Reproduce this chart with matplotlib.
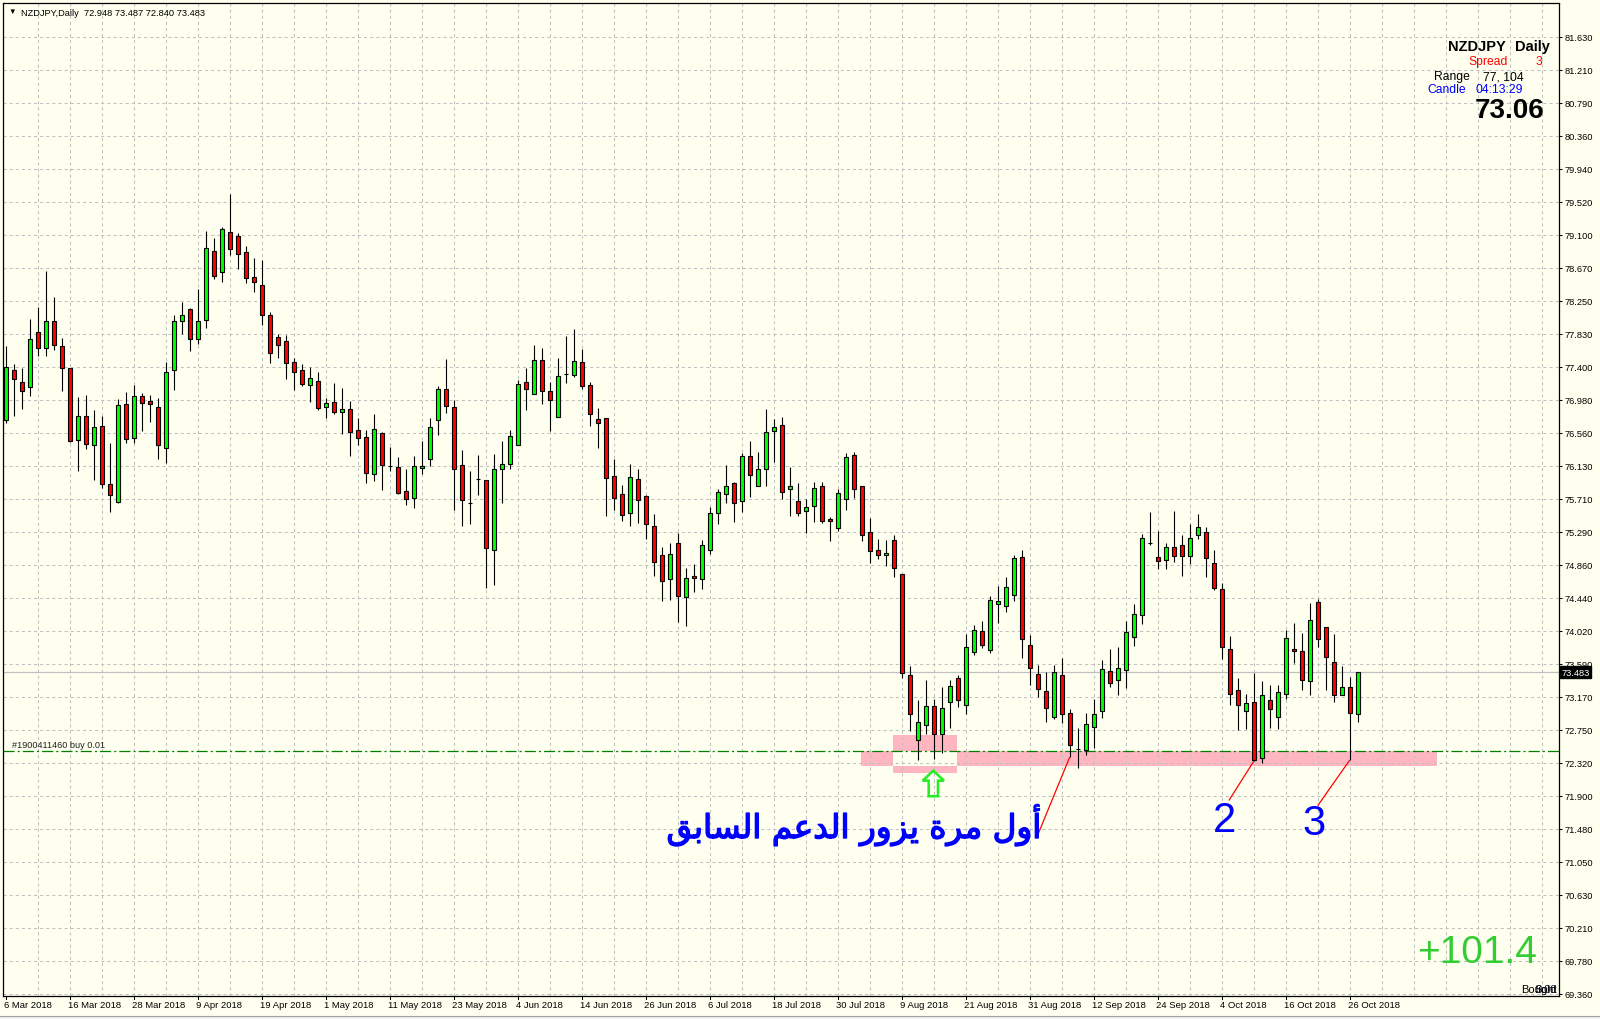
import numpy as np
import matplotlib
matplotlib.use('Agg')
import matplotlib.pyplot as plt
from matplotlib.patches import Rectangle, Polygon
import matplotlib.transforms as mtransforms
import matplotlib.patheffects as pe

plt.rcParams['font.family'] = ['Liberation Sans', 'DejaVu Sans']
plt.rcParams['lines.scale_dashes'] = False

# ---------------- data ----------------
symbol = 'NZDJPY'
timeframe = 'Daily'

opens = [76.716, 77.362, 77.199, 77.135, 77.840, 77.635, 77.981, 77.661, 77.379, 76.456,
         76.763, 76.392, 76.635, 75.892, 75.665, 76.917, 76.481, 77.020, 76.956, 76.879,
         76.353, 77.353, 77.981, 78.135, 77.751, 77.994, 78.879, 78.610, 79.123, 79.071,
         78.866, 78.546, 78.443, 78.058, 77.776, 77.725, 77.456, 77.353, 77.161, 77.212,
         76.879, 76.943, 76.815, 76.853, 76.586, 76.497, 76.022, 76.548, 76.130, 76.112,
         75.804, 75.715, 76.099, 76.215, 76.715, 77.112, 76.881, 76.138, 75.646, 75.954,
         75.945, 75.048, 76.086, 76.151, 76.394, 77.202, 77.048, 77.484, 77.086, 76.753,
         77.304, 77.292, 77.458, 77.163, 76.727, 76.740, 75.997, 75.766, 75.522, 75.958,
         75.740, 75.356, 74.984, 74.676, 75.138, 74.445, 74.715, 74.675, 75.043, 75.522,
         75.765, 75.906, 75.675, 76.252, 75.868, 76.086, 76.573, 76.650, 75.829, 75.675,
         75.547, 75.611, 75.868, 75.445, 75.329, 75.701, 76.265, 75.868, 75.278, 75.047,
         74.983, 75.175, 74.739, 73.445, 72.611, 72.803, 73.051, 72.688, 73.098, 73.406,
         73.060, 73.739, 74.009, 73.765, 74.355, 74.329, 74.470, 74.957, 73.829, 73.457,
         73.240, 72.906, 73.445, 72.958, 72.496, 72.483, 72.778, 72.983, 73.496, 73.381,
         73.509, 73.932, 74.214, 75.137, 74.958, 74.919, 75.086, 75.112, 74.971, 75.240,
         75.278, 74.881, 74.548, 73.778, 73.253, 72.983, 73.099, 72.381, 73.124, 72.906,
         73.201, 73.778, 73.753, 73.368, 74.381, 74.060, 73.612, 73.189, 73.291, 72.948]

highs = [77.669, 77.430, 77.383, 78.011, 78.161, 78.627, 78.289, 77.763, 77.388, 77.007,
         77.033, 76.845, 76.768, 76.417, 76.981, 77.071, 77.161, 77.058, 77.033, 76.994,
         77.456, 78.058, 78.225, 78.148, 78.392, 79.135, 79.046, 79.187, 79.610, 79.110,
         78.943, 78.789, 78.764, 78.097, 77.815, 77.802, 77.507, 77.430, 77.392, 77.328,
         76.994, 77.187, 77.122, 76.964, 76.736, 76.586, 76.792, 76.561, 76.368, 76.240,
         76.086, 76.257, 76.445, 76.740, 77.151, 77.497, 76.971, 76.330, 76.061, 76.270,
         75.950, 76.279, 76.445, 76.586, 77.227, 77.381, 77.676, 77.638, 77.202, 77.510,
         77.796, 77.881, 77.625, 77.202, 76.868, 76.745, 76.215, 75.881, 76.151, 76.086,
         75.753, 75.509, 75.086, 75.138, 75.266, 74.817, 74.868, 75.175, 75.598, 75.834,
         76.141, 75.919, 76.291, 76.449, 76.308, 76.859, 76.727, 76.752, 76.116, 75.906,
         75.701, 75.919, 75.919, 75.470, 75.829, 76.295, 76.308, 75.875, 75.462, 75.188,
         75.175, 75.240, 74.745, 73.560, 73.128, 73.380, 73.141, 73.291, 73.380, 73.445,
         73.970, 74.094, 74.137, 74.457, 74.586, 74.701, 74.983, 75.047, 73.957, 73.573,
         73.483, 73.573, 73.663, 73.009, 72.765, 72.958, 73.137, 73.637, 73.778, 73.804,
         74.137, 74.355, 75.253, 75.535, 75.291, 75.137, 75.552, 75.240, 75.381, 75.509,
         75.342, 75.048, 74.624, 73.945, 73.406, 73.201, 73.471, 73.368, 73.317, 73.317,
         74.022, 74.112, 73.983, 74.368, 74.419, 74.065, 73.971, 73.560, 73.419, 73.487]

lows = [76.674, 76.772, 76.862, 77.020, 77.541, 77.541, 77.618, 77.093, 76.430, 76.067,
        76.340, 75.951, 75.840, 75.533, 75.657, 76.426, 76.426, 76.571, 76.687, 76.212,
        76.161, 77.105, 77.815, 77.605, 77.687, 77.900, 78.520, 78.481, 78.828, 78.648,
        78.469, 78.353, 77.930, 77.443, 77.507, 77.238, 77.105, 77.148, 76.943, 76.840,
        76.738, 76.789, 76.533, 76.251, 76.390, 75.903, 75.928, 75.813, 76.056, 75.762,
        75.621, 75.582, 76.018, 76.121, 76.518, 76.800, 75.556, 75.351, 75.377, 75.749,
        74.561, 74.595, 75.646, 76.082, 76.394, 76.839, 77.048, 76.915, 76.569, 76.753,
        77.189, 77.266, 77.112, 76.638, 76.356, 75.484, 75.561, 75.420, 75.356, 75.394,
        75.189, 74.715, 74.394, 74.407, 74.125, 74.073, 74.509, 74.543, 75.000, 75.385,
        75.654, 75.402, 75.534, 75.731, 75.868, 75.868, 76.180, 75.697, 75.479, 75.479,
        75.261, 75.402, 75.389, 75.171, 75.299, 75.556, 75.718, 75.171, 74.885, 74.928,
        74.838, 74.697, 73.406, 72.727, 72.355, 72.688, 72.368, 72.445, 72.765, 73.034,
        72.945, 73.701, 73.791, 73.727, 74.111, 74.252, 74.393, 73.671, 73.316, 73.162,
        72.842, 72.881, 72.830, 72.394, 72.248, 72.419, 72.509, 72.894, 73.291, 73.189,
        73.278, 73.817, 74.099, 75.112, 74.804, 74.804, 74.894, 74.714, 74.868, 75.189,
        74.701, 74.535, 73.650, 73.060, 72.740, 72.753, 72.340, 72.317, 72.765, 72.753,
        73.137, 73.599, 73.253, 73.189, 73.804, 73.253, 73.099, 73.189, 72.355, 72.840]

closes = [77.392, 77.242, 77.088, 77.751, 77.635, 77.981, 77.678, 77.379, 76.443, 76.763,
          76.404, 76.622, 75.892, 75.755, 76.905, 76.469, 77.020, 76.930, 76.917, 76.392,
          77.328, 77.981, 78.058, 77.751, 77.981, 78.917, 78.558, 79.161, 78.905, 78.840,
          78.533, 78.481, 78.058, 77.571, 77.674, 77.443, 77.328, 77.174, 77.251, 76.866,
          76.930, 76.815, 76.853, 76.558, 76.484, 76.035, 76.599, 76.138, 76.128, 75.779,
          75.702, 76.125, 76.125, 76.625, 77.112, 76.894, 76.086, 75.689, 75.646, 75.954,
          75.074, 76.086, 76.151, 76.510, 77.176, 77.112, 77.484, 77.086, 76.971, 77.279,
          77.304, 77.471, 77.151, 76.792, 76.676, 75.971, 75.715, 75.497, 75.984, 75.689,
          75.381, 74.894, 74.650, 74.997, 74.458, 74.689, 74.689, 75.111, 75.522, 75.791,
          75.868, 75.650, 76.252, 76.009, 76.086, 76.560, 76.624, 75.791, 75.868, 75.522,
          75.598, 75.842, 75.415, 75.419, 75.778, 76.240, 75.829, 75.240, 75.034, 74.983,
          75.009, 74.816, 73.470, 72.945, 72.842, 73.051, 72.688, 73.021, 73.304, 73.124,
          73.804, 74.022, 73.829, 74.406, 74.393, 74.573, 74.945, 73.906, 73.534, 73.265,
          73.022, 73.483, 72.945, 72.547, 72.496, 72.817, 72.945, 73.522, 73.342, 73.535,
          73.996, 74.227, 75.201, 75.137, 74.907, 75.086, 74.971, 74.971, 75.201, 75.342,
          74.945, 74.560, 73.804, 73.201, 73.060, 73.086, 72.355, 73.189, 73.009, 73.227,
          73.919, 73.753, 73.381, 74.150, 73.907, 73.676, 73.189, 73.291, 72.958, 73.483]

date_labels = ['6 Mar 2018', '16 Mar 2018', '28 Mar 2018', '9 Apr 2018', '19 Apr 2018',
               '1 May 2018', '11 May 2018', '23 May 2018', '4 Jun 2018', '14 Jun 2018',
               '26 Jun 2018', '6 Jul 2018', '18 Jul 2018', '30 Jul 2018', '9 Aug 2018',
               '21 Aug 2018', '31 Aug 2018', '12 Sep 2018', '24 Sep 2018', '4 Oct 2018',
               '16 Oct 2018', '26 Oct 2018']
bars_per_label = 8

price_labels = ['81.630', '81.210', '80.790', '80.360', '79.940', '79.520', '79.100',
                '78.670', '78.250', '77.830', '77.400', '76.980', '76.560', '76.130',
                '75.710', '75.290', '74.860', '74.440', '74.020', '73.590', '73.170',
                '72.750', '72.320', '71.900', '71.480', '71.050', '70.630', '70.210',
                '69.780', '69.360']

header_ohlc = ['72.948', '73.487', '72.840', '73.483']
current_price = 73.483
order_price = 72.470
order_label = '#1900411460 buy 0.01'
spread_value = '3'
range_value = '77, 104'
candle_timer = '04:13:29'
big_price = '73.06'
profit_text = '+101.4'
arabic_note = 'أول مرة يزور الدعم السابق'
touch_labels = ['2', '3']

# ---------------- simple Arabic shaping (presentation forms + RTL) -------------
FORMS = {
    '\u0627': ('\uFE8D', '\uFE8E', None, None),
    '\u0623': ('\uFE83', '\uFE84', None, None),
    '\u0628': ('\uFE8F', '\uFE90', '\uFE91', '\uFE92'),
    '\u0629': ('\uFE93', '\uFE94', None, None),
    '\u062F': ('\uFEA9', '\uFEAA', None, None),
    '\u0631': ('\uFEAD', '\uFEAE', None, None),
    '\u0632': ('\uFEAF', '\uFEB0', None, None),
    '\u0633': ('\uFEB1', '\uFEB2', '\uFEB3', '\uFEB4'),
    '\u0639': ('\uFEC9', '\uFECA', '\uFECB', '\uFECC'),
    '\u0642': ('\uFED5', '\uFED6', '\uFED7', '\uFED8'),
    '\u0644': ('\uFEDD', '\uFEDE', '\uFEDF', '\uFEE0'),
    '\u0645': ('\uFEE1', '\uFEE2', '\uFEE3', '\uFEE4'),
    '\u0648': ('\uFEED', '\uFEEE', None, None),
    '\u064A': ('\uFEF1', '\uFEF2', '\uFEF3', '\uFEF4'),
}


def shape_arabic(text):
    out = []
    n = len(text)
    for k, ch in enumerate(text):
        if ch not in FORMS:
            out.append(ch)
            continue
        prev = text[k - 1] if k > 0 else None
        nxt = text[k + 1] if k + 1 < n else None
        jp = prev in FORMS and FORMS[prev][2] is not None
        jn = nxt in FORMS and FORMS[ch][2] is not None
        iso, fin, ini, med = FORMS[ch]
        if jp and jn:
            out.append(med)
        elif jp:
            out.append(fin)
        elif jn:
            out.append(ini)
        else:
            out.append(iso)
    return ''.join(out)[::-1]


# ---------------- figure ----------------
FIG_W, FIG_H = 1600, 1020
BG = '#FFFFF0'
fig = plt.figure(figsize=(FIG_W / 100, FIG_H / 100), dpi=100, facecolor=BG)


def fx(px):
    return px / FIG_W


def fy(py):
    return 1 - py / FIG_H


ax_left, ax_right, ax_top, ax_bottom = 3, 1559, 4, 997
ax = fig.add_axes([fx(ax_left), fy(ax_bottom), fx(ax_right - ax_left), (ax_bottom - ax_top) / FIG_H])
ax.set_facecolor(BG)

bar_px = 8.0
x0_px = 5.7
px_per_price = 78.0
ref_price, ref_py = 81.63, 37.7
ax.set_xlim((ax_left - x0_px) / bar_px, (ax_right - x0_px) / bar_px)
ax.set_ylim(ref_price - (ax_bottom - ref_py) / px_per_price,
            ref_price + (ref_py - ax_top) / px_per_price)

# grid
tick_vals = np.linspace(float(price_labels[-1]), float(price_labels[0]), len(price_labels))
ax.set_yticks(tick_vals)
ax.set_yticklabels(price_labels[::-1])
ax.yaxis.tick_right()
ax.tick_params(axis='y', length=2.2, width=0.75, pad=1.6, labelsize=6.7, colors='black',
               direction='out')
ax.set_xticks(np.arange(4, 195, 4))
ax.tick_params(axis='x', length=0, labelbottom=False)
ax.set_axisbelow('line')
ax.grid(True, color='#C0C0C0', linestyle=(0, (2.2, 2.2)), linewidth=0.75)
for sp in ax.spines.values():
    sp.set_color('black')
    sp.set_linewidth(0.9)

n = len(opens)
x = np.arange(n)
o = np.array(opens)
hi = np.array(highs)
lo = np.array(lows)
c = np.array(closes)

# support zone rectangles (XOR style overlap)
zone_x = (106.9, 178.9)
zone_y = (72.284, 72.468)
box_x = (110.95, 118.9)
box_y = (72.194, 72.681)
pink = '#FFB6C1'
ax.add_patch(Rectangle((zone_x[0], zone_y[0]), zone_x[1] - zone_x[0], zone_y[1] - zone_y[0],
                       facecolor=pink, edgecolor='none', zorder=0.8))
ax.add_patch(Rectangle((box_x[0], box_y[0]), box_x[1] - box_x[0], box_y[1] - box_y[0],
                       facecolor=pink, edgecolor='none', zorder=0.8))
ax.add_patch(Rectangle((box_x[0], zone_y[0]), box_x[1] - box_x[0], zone_y[1] - zone_y[0],
                       facecolor=BG, edgecolor='none', zorder=0.9))

# horizontal lines
ax.axhline(current_price, color='#C0C0C0', linewidth=0.9, zorder=2)
ax.axhline(order_price, color='#008000', linewidth=0.9, linestyle=(0, (8, 2.2, 1.5, 2.2)), zorder=2)
ax.text(0.75, order_price + 0.08, order_label, fontsize=6.6, color='#202020', va='center',
        ha='left', zorder=5)

# candles
ax.vlines(x, lo, hi, color='black', linewidth=0.8, zorder=3)
body_bottom = np.minimum(o, c)
body_height = np.maximum(np.abs(c - o), 0.004)
colors = np.where(c > o, '#00FF00', np.where(c < o, '#FF0000', '#000000'))
ax.bar(x, body_height, bottom=body_bottom, width=0.52, color=colors, edgecolor='black',
       linewidth=0.8, zorder=4)

# green hollow up arrow
ac, atop, abase, abot = 115.95, 72.220, 72.092, 71.892
hw, sw = 1.33, 0.58
arrow = Polygon([(ac, atop), (ac + hw, abase), (ac + sw, abase), (ac + sw, abot),
                 (ac - sw, abot), (ac - sw, abase), (ac - hw, abase)], closed=True,
                facecolor='none', edgecolor='#22EE22', linewidth=1.8, zorder=5)
ax.add_patch(arrow)

# red connector lines
connectors = [((133, 72.394), (129.0, 71.395)),
              ((156, 72.340), (152.9, 71.838)),
              ((168, 72.355), (164.0, 71.771))]
for (xa, ya), (xb, yb) in connectors:
    ax.plot([xa, xb], [ya, yb], color='#FF0000', linewidth=0.9, zorder=6, solid_capstyle='butt')

# touch labels 2 and 3
ax.text(152.35, 71.447, touch_labels[0], fontsize=30, color='#0000FF', ha='center',
        va='baseline', zorder=6)
ax.text(163.5, 71.408, touch_labels[1], fontsize=30, color='#0000FF', ha='center',
        va='baseline', zorder=6)

# Arabic annotation, sized to the reference width
shaped = shape_arabic(arabic_note)
t_ar = ax.text(129.5, 71.357, shaped, fontsize=26, color='#0000FF', ha='right',
               va='baseline', family=['DejaVu Sans'], zorder=6)
fig.canvas.draw()
bb = t_ar.get_window_extent()
target_w = 375.0
t_ar.set_fontsize(26 * target_w / bb.width)
t_ar.set_path_effects([pe.withStroke(linewidth=1.0, foreground='#0000FF')])

# current price tag on the right axis
ax.text(1.0015, current_price, '73.483',
        transform=mtransforms.blended_transform_factory(ax.transAxes, ax.transData),
        fontsize=6.7, color='white', va='center', ha='left', zorder=10, clip_on=False,
        bbox=dict(boxstyle='square,pad=0.18', facecolor='black', edgecolor='black'))

# date labels
tr = mtransforms.blended_transform_factory(ax.transData, fig.transFigure)
for k, lab in enumerate(date_labels):
    bi = k * bars_per_label
    ax.text(bi - 0.2, fy(1005.7), lab, transform=tr, fontsize=6.8, color='black',
            ha='left', va='center', clip_on=False)
    ax.plot([bi, bi], [fy(997), fy(1000)], transform=tr, color='black', lw=0.75, clip_on=False)

# header
fig.text(fx(8), fy(12.5), '\u25BC', fontsize=5.5, color='black', va='center', ha='left')
fig.text(fx(20.7), fy(13), f'{symbol},{timeframe}  ' + ' '.join(header_ohlc), fontsize=6.7,
         color='black', va='center', ha='left')

# info panel (top-right)
fig.text(fx(1447.7), fy(47.3), symbol, fontsize=10.5, fontweight='bold', ha='left', va='center')
fig.text(fx(1550), fy(47.3), timeframe, fontsize=10.5, fontweight='bold', ha='right', va='center')
fig.text(fx(1468.3), fy(61.7), 'Spread', fontsize=8.7, color='#FF0000', ha='left', va='center')
fig.text(fx(1542), fy(61.7), spread_value, fontsize=8.7, color='#FF0000', ha='right', va='center')
fig.text(fx(1434.3), fy(77), 'Range', fontsize=8.7, color='black', ha='left', va='center')
fig.text(fx(1523.3), fy(77), range_value, fontsize=8.7, color='black', ha='right', va='center')
fig.text(fx(1427.7), fy(90.3), 'Candle', fontsize=8.7, color='#0000FF', ha='left', va='center')
fig.text(fx(1523.3), fy(90.3), candle_timer, fontsize=8.7, color='#0000FF', ha='right', va='center')
fig.text(fx(1545), fy(111), big_price, fontsize=20, fontweight='bold', color='black',
         ha='right', va='center')

# profit text
fig.text(fx(1417), fy(962.7), profit_text, fontsize=28, color='#32CD32', ha='left', va='baseline')

# overlapping Sold/Bought labels (drawn on top of each other as in the terminal)
for s, col in [('Bought', '#000000'), ('Sold', '#000000'), ('0.00', '#202040')]:
    fig.text(fx(1557), fy(993), s, fontsize=8, color=col, ha='right', va='baseline')

# bottom window strip
fig.add_artist(Rectangle((0, 0), 1, fy(1017), transform=fig.transFigure, facecolor='#F0F0F0',
                         edgecolor='none'))
fig.add_artist(plt.Line2D([0, 1], [fy(1017), fy(1017)], transform=fig.transFigure,
                          color='#A0A0A0', lw=0.8))

fig.savefig('out.png', dpi=100, facecolor=BG)
